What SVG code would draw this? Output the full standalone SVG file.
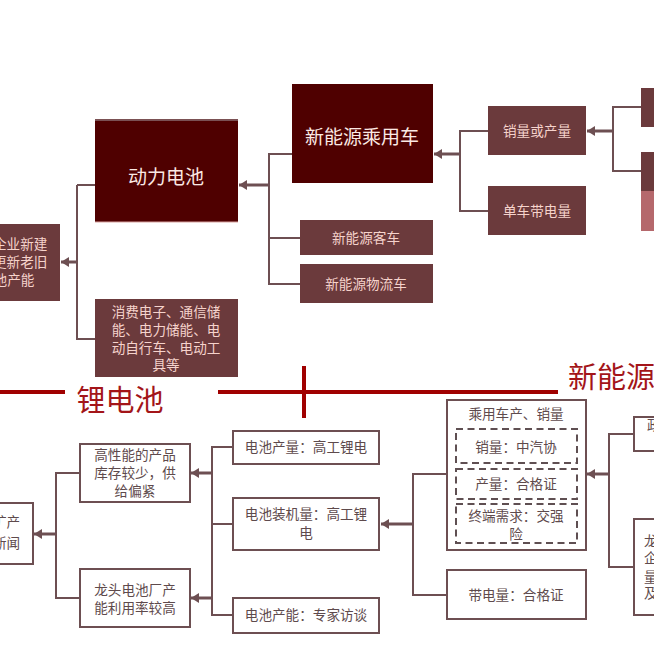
<svg xmlns="http://www.w3.org/2000/svg" width="654" height="655" viewBox="0 0 654 655">
<style>
text{font-family:"Noto Sans CJK SC","Liberation Sans",sans-serif;font-size:13.6px;text-anchor:middle}
.dk{fill:#4f0000}
.md{fill:#6b3a3c}
.wt{fill:#fff;stroke:#6d4f52;stroke-width:2}
.lt{fill:#f6d3cc}
.ink{fill:#5e4a4c}
.big{font-size:19px;fill:#fbe9e4}
.hd{font-size:29px;fill:#a31519}
.st{text-anchor:start}
.c{fill:none;stroke:#6d4f52;stroke-width:2}
.a{fill:none;stroke:#6d4f52;stroke-width:3;marker-end:url(#ah)}
.r{stroke:#a00000;stroke-width:4;fill:none}
.d{fill:none;stroke:#5f4f52;stroke-width:2;stroke-dasharray:7 4.5}
</style>
<defs>
<marker id="ah" markerUnits="userSpaceOnUse" markerWidth="9" markerHeight="10" refX="8" refY="5" orient="auto"><path d="M0 0L8 5L0 10Z" fill="#6d4f52"/></marker>
</defs>
<rect width="654" height="655" fill="#fff"/>
<g id="connectors">
<path class="c" d="M95 185H77M77 185V339H95"/>
<path class="a" d="M77 262H61"/>
<path class="c" d="M292 154H269V284H300M269 238H300"/>
<path class="a" d="M269 185H239"/>
<path class="c" d="M488 131H460V211H488"/>
<path class="a" d="M460 154H434"/>
<path class="c" d="M641 107H613V171H641"/>
<path class="a" d="M613 131H587"/>
<path class="c" d="M80 473H56V598H80"/>
<path class="a" d="M56 534H34"/>
<path class="c" d="M233 447H212V615H233M212 524H233"/>
<path class="a" d="M212 473H191"/>
<path class="a" d="M212 598H191"/>
<path class="c" d="M447 474H413V595H447"/>
<path class="a" d="M413 524H381"/>
<path class="c" d="M634 434H609V567H634"/>
<path class="a" d="M609 474H587"/>
</g>
<g id="rule-li">
<path class="r" d="M0 392H65M218 392H558M304 366V418"/>
<text class="hd" x="120" y="411">锂电池</text>
</g>
<g id="rule-nev">
<text class="hd st" x="568" y="388">新能源</text>
</g>
<g id="node-capacity">
<rect class="md" x="-10" y="224" width="70" height="77"/>
<text class="lt st" x="-7" y="249">企业新建</text>
<text class="lt st" x="-7" y="267">更新老旧</text>
<text class="lt st" x="-20" y="285">电池产能</text>
</g>
<g id="node-power-battery">
<rect class="dk" x="95" y="120" width="143" height="102"/>
<path d="M95 120H238" stroke="#7b5154" stroke-width="2"/>
<path d="M95 222H238" stroke="#d9a3a0" stroke-width="1"/>
<text class="big" x="166" y="184">动力电池</text>
</g>
<g id="node-consumer">
<rect class="md" x="95" y="299" width="143" height="78"/>
<text class="lt" x="166" y="317">消费电子、通信储</text>
<text class="lt" x="166" y="335">能、电力储能、电</text>
<text class="lt" x="166" y="353">动自行车、电动工</text>
<text class="lt" x="166" y="370">具等</text>
</g>
<g id="node-nev-car">
<rect class="dk" x="292" y="84" width="141" height="99"/>
<text class="big" x="362" y="144">新能源乘用车</text>
</g>
<g id="node-bus">
<rect class="md" x="300" y="220" width="133" height="35"/>
<text class="lt" x="366" y="243">新能源客车</text>
</g>
<g id="node-logistics">
<rect class="md" x="300" y="264" width="133" height="39"/>
<text class="lt" x="366" y="289">新能源物流车</text>
</g>
<g id="node-sales">
<rect class="md" x="488" y="106" width="98" height="49"/>
<text class="lt" x="537" y="136">销量或产量</text>
</g>
<g id="node-per-car">
<rect class="md" x="488" y="186" width="98" height="49"/>
<text class="lt" x="537" y="216">单车带电量</text>
</g>
<g id="node-right-1">
<rect class="md" x="641" y="88" width="20" height="39"/>
</g>
<g id="node-right-2">
<rect class="md" x="641" y="152" width="20" height="39"/>
<rect x="641" y="191" width="20" height="40" fill="#b5686c"/>
</g>
<g id="node-expansion">
<rect class="wt" x="-10" y="503" width="43" height="61"/>
<text class="ink st" x="-7" y="527">扩产</text>
<text class="ink st" x="-7" y="548">新闻</text>
</g>
<g id="node-inventory">
<rect class="wt" x="80" y="444" width="110" height="58"/>
<text class="ink" x="135" y="460">高性能的产品</text>
<text class="ink" x="135" y="478">库存较少，供</text>
<text class="ink" x="135" y="496">给偏紧</text>
</g>
<g id="node-utilisation">
<rect class="wt" x="80" y="569" width="110" height="58"/>
<text class="ink" x="135" y="595">龙头电池厂产</text>
<text class="ink" x="135" y="613">能利用率较高</text>
</g>
<g id="node-output">
<rect class="wt" x="233" y="431" width="146" height="33"/>
<text class="ink" x="306" y="452">电池产量：高工锂电</text>
</g>
<g id="node-installed">
<rect class="wt" x="233" y="498" width="146" height="52"/>
<text class="ink" x="306" y="519">电池装机量：高工锂</text>
<text class="ink" x="306" y="538">电</text>
</g>
<g id="node-capacity-survey">
<rect class="wt" x="233" y="598" width="146" height="35"/>
<text class="ink" x="306" y="620">电池产能：专家访谈</text>
</g>
<g id="node-car-data">
<rect class="wt" x="447" y="400" width="139" height="150"/>
<text class="ink" x="516" y="419">乘用车产、销量</text>
<rect class="d" x="456" y="429" width="121" height="34"/>
<text class="ink" x="516" y="452">销量：中汽协</text>
<rect class="d" x="456" y="469" width="121" height="30"/>
<text class="ink" x="516" y="489">产量：合格证</text>
<rect class="d" x="456" y="504" width="121" height="39"/>
<text class="ink" x="516" y="521">终端需求：交强</text>
<text class="ink" x="516" y="539">险</text>
</g>
<g id="node-charge">
<rect class="wt" x="447" y="570" width="139" height="49"/>
<text class="ink" x="516" y="600">带电量：合格证</text>
</g>
<g id="node-policy">
<rect class="wt" x="634" y="417" width="40" height="34"/>
<text class="ink st" x="647" y="430">政</text>
</g>
<g id="node-leader">
<rect class="wt" x="634" y="519" width="40" height="96"/>
<text class="ink st" x="644" y="546">龙</text>
<text class="ink st" x="644" y="563">企</text>
<text class="ink st" x="644" y="582">量</text>
<text class="ink st" x="644" y="598">及</text>
</g>
</svg>
